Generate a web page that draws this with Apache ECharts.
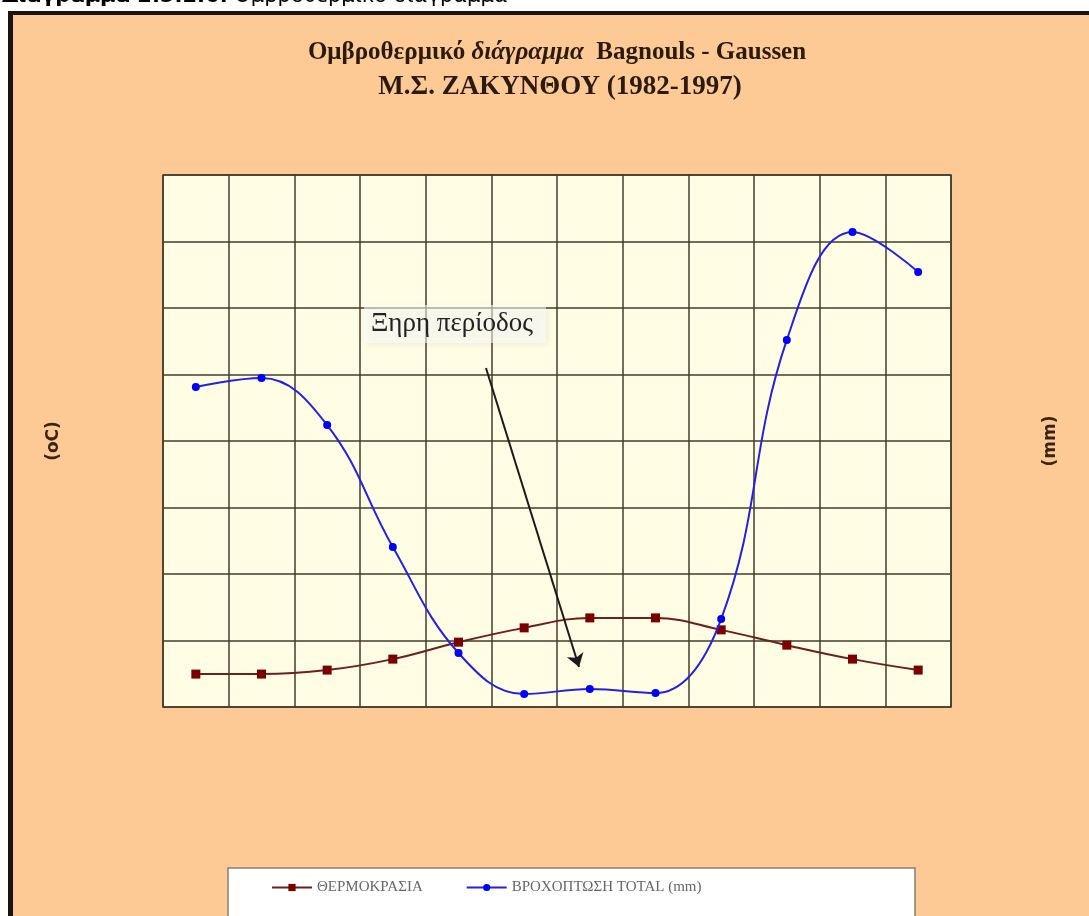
<!DOCTYPE html>
<html>
<head>
<meta charset="utf-8">
<title>Ομβροθερμικό διάγραμμα Μ.Σ. Ζακύνθου</title>
<script src="https://cdn.jsdelivr.net/npm/echarts@6/dist/echarts.min.js"></script>
<style>
  body { margin: 0; background: #fff; }
  #main { width: 1089px; height: 916px; }
</style>
</head>
<body>
<div id="main"></div>
<script>
// μήνες (δεν εμφανίζονται ετικέτες στο πρωτότυπο)
var months = ["ΙΑΝ", "ΦΕΒ", "ΜΑΡ", "ΑΠΡ", "ΜΑΙ", "ΙΟΥΝ", "ΙΟΥΛ", "ΑΥΓ", "ΣΕΠ", "ΟΚΤ", "ΝΟΕ", "ΔΕΚ"];
// θερμοκρασία (oC)
var temperature = [9.9, 9.9, 11.1, 14.4, 19.5, 23.8, 26.8, 26.8, 23.2, 18.6, 14.4, 11.1];
// βροχόπτωση (mm), κλίμακα P = 2T
var rainfall = [192.5, 197.9, 169.6, 96.2, 32.5, 7.8, 10.8, 8.4, 52.9, 220.8, 285.7, 261.7];
// άξονες [min, max, interval]
var tempAxis = [0, 160, 20];
var rainAxis = [0, 320, 40];

var serif = "'Liberation Serif', 'DejaVu Serif', serif";
var gridColor = "#423d2c";

var myChart = echarts.init(document.getElementById("main"));

var option = {
  backgroundColor: "#fdca96",
  animation: false,
  graphic: [
    // λευκό περιθώριο και μαύρο πλαίσιο
    { type: "rect", silent: true, shape: { x: 0, y: 0, width: 1089, height: 11 }, style: { fill: "#fff" } },
    { type: "rect", silent: true, shape: { x: 0, y: 0, width: 8, height: 916 }, style: { fill: "#fff" } },
    { type: "rect", silent: true, shape: { x: 8, y: 11, width: 1081, height: 4 }, style: { fill: "#1a1410" } },
    { type: "rect", silent: true, shape: { x: 8, y: 11, width: 5, height: 905 }, style: { fill: "#1a1410" } },
    {
      type: "text", left: 2, top: -14, silent: true,
      style: {
        text: "{b|Διάγραμμα 2.5.2.6.} Ομβροθερμικό διάγραμμα",
        font: "21px 'DejaVu Sans', Verdana, sans-serif",
        fill: "#000",
        rich: { b: { fontWeight: "bold", fontSize: 21, fontFamily: "DejaVu Sans" } }
      }
    },
    // τίτλος
    {
      type: "text", silent: true,
      style: {
        x: 557, y: 53, align: "center", verticalAlign: "middle",
        text: "Ομβροθερμικό {i|διάγραμμα}  Bagnouls - Gaussen",
        fill: "#2b1a0e",
        font: "bold 25px " + serif,
        rich: { i: { fontStyle: "italic", fontWeight: "bold", fontSize: 25, fontFamily: "Liberation Serif" } }
      }
    },
    {
      type: "text", silent: true,
      style: {
        x: 560, y: 87, align: "center", verticalAlign: "middle",
        text: "Μ.Σ. ΖΑΚΥΝΘΟΥ (1982-1997)",
        fill: "#2b1a0e",
        font: "bold 27px " + serif
      }
    },
    // σχόλιο ξηρής περιόδου
    {
      type: "rect", silent: true, z: 5,
      shape: { x: 364, y: 305, width: 182, height: 38 },
      style: { fill: "rgba(255,255,255,0.55)", shadowBlur: 6, shadowColor: "rgba(0,0,0,0.12)", shadowOffsetX: 2, shadowOffsetY: 2 }
    },
    {
      type: "text", silent: true, z: 6,
      style: {
        x: 371, y: 324, verticalAlign: "middle",
        text: "Ξηρη περίοδος",
        fill: "#222",
        font: "27px " + serif
      }
    },
    // πλαίσιο υπομνήματος
    {
      type: "rect", silent: true,
      shape: { x: 228, y: 868, width: 687, height: 80 },
      style: { fill: "#fff", stroke: "#8a7f75", lineWidth: 1.5 }
    }
  ],
  legend: {
    left: 266,
    top: 875,
    itemGap: 43,
    itemWidth: 40,
    itemHeight: 9,
    textStyle: { fontFamily: serif, fontSize: 15, color: "#666" },
    data: ["ΘΕΡΜΟΚΡΑΣΙΑ", "ΒΡΟΧΟΠΤΩΣΗ TOTAL (mm)"]
  },
  grid: {
    left: 163,
    top: 175,
    width: 788,
    height: 532,
    show: true,
    backgroundColor: "#fffde3",
    borderColor: gridColor,
    borderWidth: 1.5
  },
  xAxis: {
    type: "category",
    data: months,
    axisLine: { show: false },
    axisTick: { show: false },
    axisLabel: { show: false },
    splitLine: { show: true, lineStyle: { color: gridColor, width: 1.5 } }
  },
  yAxis: [
    {
      type: "value",
      min: tempAxis[0], max: tempAxis[1], interval: tempAxis[2],
      name: "(oC)",
      nameLocation: "middle",
      nameRotate: 90,
      nameGap: 101,
      nameTextStyle: { fontFamily: "DejaVu Sans", fontWeight: "bold", fontSize: 17, color: "#3a2410" },
      axisLine: { show: false },
      axisTick: { show: false },
      axisLabel: { show: false },
      splitLine: { show: true, lineStyle: { color: gridColor, width: 1.5 } }
    },
    {
      type: "value",
      min: rainAxis[0], max: rainAxis[1], interval: rainAxis[2],
      name: "(mm)",
      nameLocation: "middle",
      nameRotate: 90,
      nameGap: 91,
      nameTextStyle: { fontFamily: "DejaVu Sans", fontWeight: "bold", fontSize: 17, color: "#3a2410" },
      axisLine: { show: false },
      axisTick: { show: false },
      axisLabel: { show: false },
      splitLine: { show: false }
    }
  ],
  series: [
    {
      name: "ΘΕΡΜΟΚΡΑΣΙΑ",
      type: "line",
      yAxisIndex: 0,
      data: temperature,
      smooth: 0.4,
      symbol: "rect",
      symbolSize: 9,
      lineStyle: { color: "#6e1e1e", width: 2 },
      itemStyle: { color: "#7a0000" },
      z: 3,
      markLine: {
        silent: true,
        symbol: ["none", "arrow"],
        symbolSize: 13,
        label: { show: false },
        lineStyle: { color: "#1a1a1a", width: 2, type: "solid" },
        data: [[{ x: 486, y: 368 }, { x: 579, y: 667 }]]
      }
    },
    {
      name: "ΒΡΟΧΟΠΤΩΣΗ TOTAL (mm)",
      type: "line",
      yAxisIndex: 1,
      data: rainfall,
      smooth: 0.4,
      symbol: "circle",
      symbolSize: 8,
      lineStyle: { color: "#2222e6", width: 2 },
      itemStyle: { color: "#0000ff" },
      z: 4
    }
  ]
};

myChart.setOption(option);
</script>
</body>
</html>
